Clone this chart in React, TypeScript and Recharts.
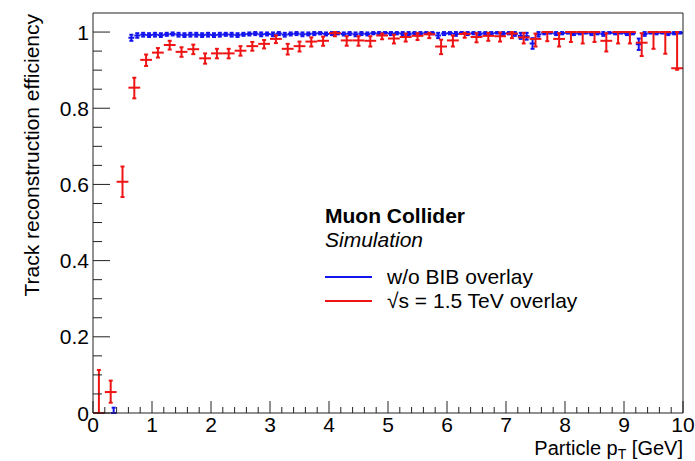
import React from "react";
import { ErrorBar, Scatter, ScatterChart, XAxis, YAxis } from "recharts";

const FONT = '"Liberation Sans", Arial, Helvetica, sans-serif';
const FRAME = "#222";
const BLUE = "#1414ee";
const RED = "#ee1414";

// red: with BIB overlay, 0.2 GeV bins starting at 0
const RED_BIN = 0.2;
const redEff = [
  0, 0.055, 0.607, 0.854, 0.927, 0.946, 0.966, 0.948, 0.955, 0.931,
  0.944, 0.944, 0.951, 0.963, 0.969, 0.982, 0.956, 0.963, 0.975, 0.977,
  0.997, 0.978, 0.978, 0.977, 0.991, 0.983, 0.987, 0.99, 0.994, 0.962,
  0.978, 0.995, 0.987, 0.99, 0.989, 0.996, 0.986, 0.982, 1, 0.982,
  1, 1, 1, 0.977, 1, 1, 0.972, 1, 1, 0.905,
];
const redErrLo = [
  0, 0.028, 0.04, 0.028, 0.016, 0.013, 0.012, 0.013, 0.013, 0.014,
  0.013, 0.013, 0.013, 0.012, 0.012, 0.011, 0.015, 0.014, 0.013, 0.013,
  0.008, 0.014, 0.014, 0.015, 0.01, 0.013, 0.012, 0.011, 0.01, 0.02,
  0.016, 0.01, 0.014, 0.013, 0.014, 0.012, 0.016, 0.02, 0.024, 0.02,
  0.026, 0.03, 0.026, 0.028, 0.03, 0.03, 0.035, 0.044, 0.057, 0.004,
];
const redErrHi = [
  0.113, 0.03, 0.04, 0.026, 0.014, 0.012, 0.011, 0.012, 0.012, 0.013,
  0.012, 0.012, 0.012, 0.011, 0.01, 0.009, 0.013, 0.012, 0.011, 0.011,
  0.003, 0.011, 0.011, 0.012, 0.005, 0.01, 0.009, 0.007, 0.004, 0.018,
  0.013, 0.003, 0.01, 0.008, 0.01, 0.004, 0.012, 0.014, 0, 0.015,
  0, 0, 0, 0.02, 0, 0, 0.025, 0, 0, 0.095,
];

// blue: without BIB, 0.1 GeV bins starting at 0 (null = empty bin)
const BLUE_BIN = 0.1;
const blueEff: (number | null)[] = [
  null, null, null, 0, null, null, 0.985, 0.991, 0.993, 0.992,
  0.993, 0.992, 0.994, 0.995, 0.993, 0.992, 0.993, 0.993, 0.992, 0.993,
  0.992, 0.993, 0.994, 0.993, 0.992, 0.994, 0.995, 0.996, 0.994, 0.995,
  0.994, 0.996, 0.993, 0.995, 0.996, 0.994, 0.995, 0.996, 0.997, 0.995,
  0.996, 0.997, 0.995, 0.996, 0.994, 0.996, 0.995, 0.997, 0.996, 0.998,
  0.996, 0.997, 0.996, 0.995, 0.997, 0.996, 0.998, 0.997, 0.991, 0.996,
  0.997, 0.995, 0.998, 0.996, 0.997, 0.995, 0.997, 0.996, 0.998, 0.996,
  0.997, 0.995, 0.99, 0.989, 0.97, 0.994, 0.997, 0.998, 0.996, 0.997,
  0.998, 0.996, 0.997, 0.998, 0.996, 0.997, 0.995, 0.998, 0.997, 0.998,
  0.996, 0.997, 0.968, 0.995, 0.998, 0.997, 0.998, 0.996, 0.997, 0.998,
];
const blueErr = [
  0, 0, 0, 0.014, 0, 0, 0.008, 0.006, 0.005, 0.005,
  0.005, 0.005, 0.004, 0.004, 0.005, 0.005, 0.005, 0.005, 0.005, 0.005,
  0.005, 0.005, 0.004, 0.005, 0.005, 0.004, 0.004, 0.004, 0.005, 0.004,
  0.005, 0.004, 0.005, 0.004, 0.004, 0.005, 0.004, 0.004, 0.003, 0.004,
  0.004, 0.003, 0.004, 0.004, 0.005, 0.004, 0.004, 0.003, 0.004, 0.002,
  0.004, 0.003, 0.004, 0.005, 0.003, 0.004, 0.002, 0.003, 0.007, 0.004,
  0.003, 0.005, 0.002, 0.004, 0.003, 0.005, 0.003, 0.004, 0.002, 0.004,
  0.003, 0.005, 0.008, 0.009, 0.014, 0.006, 0.003, 0.002, 0.004, 0.003,
  0.002, 0.004, 0.003, 0.002, 0.004, 0.003, 0.005, 0.002, 0.003, 0.002,
  0.004, 0.003, 0.015, 0.005, 0.002, 0.003, 0.002, 0.004, 0.003, 0.002,
];

const xMajor = [0, 1, 2, 3, 4, 5, 6, 7, 8, 9, 10];
const yMajor = [0, 0.2, 0.4, 0.6, 0.8, 1];
const yLabels = ["0", "0.2", "0.4", "0.6", "0.8", "1"];
const xTicks = Array.from({ length: 51 }, (_, i) => i / 5);
const yTicks = Array.from({ length: 21 }, (_, i) => i / 20);

const legendItems = [
  { label: "w/o BIB overlay", color: BLUE },
  { label: "\u221As = 1.5 TeV overlay", color: RED },
];

const redData = redEff.map((v, i) => ({
  x: (i * 2 + 1) / 10,
  y: v,
  ex: RED_BIN / 2,
  ey: [redErrLo[i], redErrHi[i]],
}));

const blueData = blueEff
  .map((v, i) =>
    v === null
      ? null
      : {
          x: (i * 2 + 1) / 20,
          y: v,
          ex: BLUE_BIN / 2,
          ey: [Math.min(blueErr[i], v), Math.min(blueErr[i], 1 - v)],
        }
  )
  .filter((d) => d !== null);

const NoMarker = () => <g />;

function BottomTick(props: any) {
  const { x, y, payload } = props;
  const major = xMajor.includes(payload.value);
  return (
    <g>
      <line x1={x} x2={x} y1={y} y2={y - (major ? 12 : 6)} stroke={FRAME} strokeWidth={1} />
      {major && (
        <text x={x} y={y + 19} textAnchor="middle" fontSize={21} fontFamily={FONT} fill="#000">
          {payload.value}
        </text>
      )}
    </g>
  );
}

function TopTick(props: any) {
  const { x, y, payload } = props;
  const major = xMajor.includes(payload.value);
  return <line x1={x} x2={x} y1={y} y2={y + (major ? 12 : 6)} stroke={FRAME} strokeWidth={1} />;
}

function LeftTick(props: any) {
  const { x, y, payload } = props;
  const idx = yMajor.indexOf(payload.value);
  const major = idx >= 0;
  return (
    <g>
      <line x1={x} x2={x + (major ? 17 : 9)} y1={y} y2={y} stroke={FRAME} strokeWidth={1} />
      {major && (
        <text x={x - 4} y={y + 7.5} textAnchor="end" fontSize={21} fontFamily={FONT} fill="#000">
          {yLabels[idx]}
        </text>
      )}
    </g>
  );
}

function RightTick(props: any) {
  const { x, y, payload } = props;
  const major = yMajor.includes(payload.value);
  return <line x1={x} x2={x - (major ? 17 : 9)} y1={y} y2={y} stroke={FRAME} strokeWidth={1} />;
}

export default function App() {
  return (
    <div style={{ position: "absolute", left: 0, top: 0, width: 695, height: 461, background: "#fff" }}>
      <ScatterChart width={695} height={461} margin={{ top: 12, right: 11, bottom: 47, left: 92 }}>
        <XAxis
          type="number"
          dataKey="x"
          domain={[0, 10]}
          ticks={xTicks}
          interval={0}
          height={1}
          tickSize={0}
          tickMargin={0}
          tickLine={false}
          axisLine={{ stroke: FRAME }}
          tick={<BottomTick />}
        />
        <XAxis
          xAxisId="top"
          orientation="top"
          type="number"
          domain={[0, 10]}
          ticks={xTicks}
          interval={0}
          height={1}
          tickSize={0}
          tickMargin={0}
          tickLine={false}
          axisLine={{ stroke: FRAME }}
          tick={<TopTick />}
        />
        <YAxis
          type="number"
          dataKey="y"
          domain={[0, 1.05]}
          ticks={yTicks}
          interval={0}
          width={1}
          tickSize={0}
          tickMargin={0}
          tickLine={false}
          axisLine={{ stroke: FRAME }}
          tick={<LeftTick />}
        />
        <YAxis
          yAxisId="right"
          orientation="right"
          type="number"
          domain={[0, 1.05]}
          ticks={yTicks}
          interval={0}
          width={1}
          tickSize={0}
          tickMargin={0}
          tickLine={false}
          axisLine={{ stroke: FRAME }}
          tick={<RightTick />}
        />
        <Scatter data={blueData} shape={NoMarker} isAnimationActive={false}>
          <ErrorBar dataKey="ex" direction="x" width={0} stroke={BLUE} strokeWidth={2} isAnimationActive={false} />
          <ErrorBar dataKey="ey" direction="y" width={2} stroke={BLUE} strokeWidth={2} isAnimationActive={false} />
        </Scatter>
        <Scatter data={redData} shape={NoMarker} isAnimationActive={false}>
          <ErrorBar dataKey="ex" direction="x" width={0} stroke={RED} strokeWidth={2} isAnimationActive={false} />
          <ErrorBar dataKey="ey" direction="y" width={2} stroke={RED} strokeWidth={2} isAnimationActive={false} />
        </Scatter>
      </ScatterChart>
      <svg
        width={695}
        height={461}
        style={{ position: "absolute", left: 0, top: 0, pointerEvents: "none" }}
        fontFamily={FONT}
      >
        <text transform="rotate(-90)" x={-14} y={39} textAnchor="end" fontSize={21} fill="#000">
          Track reconstruction efficiency
        </text>
        <text x={683} y={455} textAnchor="end" fontSize={20} fill="#000">
          Particle p
          <tspan dy={4} fontSize={14}>T</tspan>
          <tspan dy={-4}> [GeV]</tspan>
        </text>
        <text x={325} y={223} fontSize={21} fontWeight="bold" fill="#000">
          Muon Collider
        </text>
        <text x={325} y={247} fontSize={21} fontStyle="italic" fill="#000">
          Simulation
        </text>
        {legendItems.map((it, i) => (
          <g key={it.label}>
            <line x1={325} x2={372} y1={277 + i * 24} y2={277 + i * 24} stroke={it.color} strokeWidth={2} />
            <text x={387} y={284 + i * 24} fontSize={21} fill="#000">
              {it.label}
            </text>
          </g>
        ))}
      </svg>
    </div>
  );
}
